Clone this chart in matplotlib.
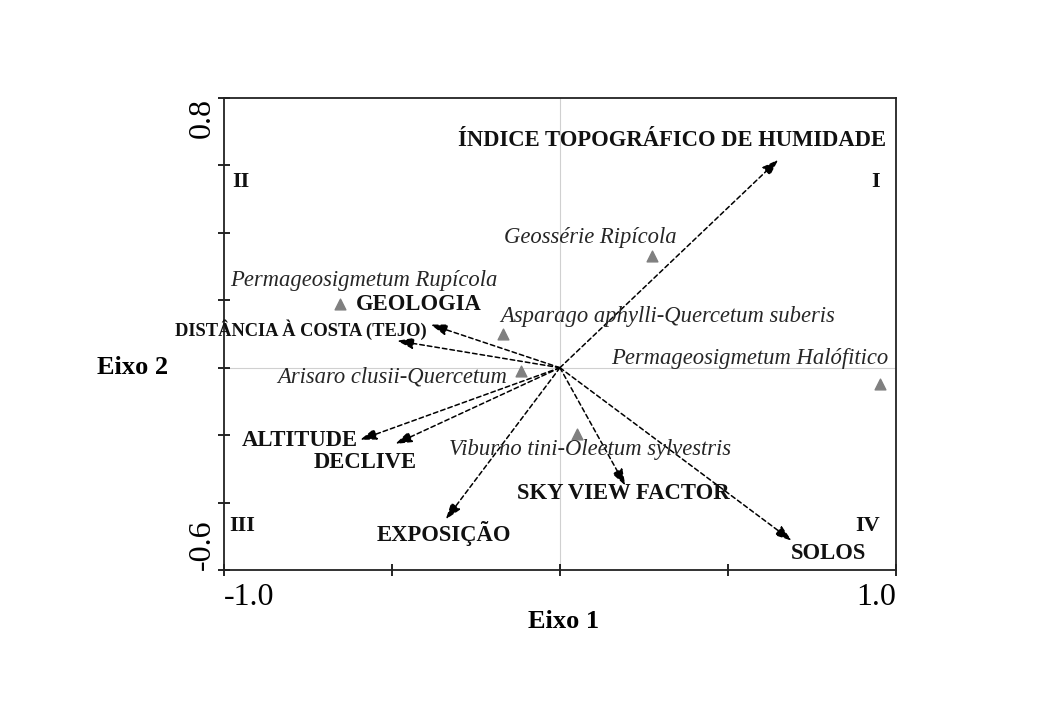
import matplotlib.pyplot as plt
import numpy as np

plt.rcParams['font.family'] = ['Liberation Serif', 'DejaVu Serif']

# environmental vectors (arrow tips)
var_names = ['ÍNDICE TOPOGRÁFICO DE HUMIDADE', 'GEOLOGIA', 'DISTÂNCIA À COSTA (TEJO)',
             'ALTITUDE', 'DECLIVE', 'EXPOSIÇÃO', 'SKY VIEW FACTOR', 'SOLOS']
var_x = [0.65, -0.385, -0.485, -0.595, -0.49, -0.34, 0.195, 0.69]
var_y = [0.617, 0.128, 0.08, -0.214, -0.226, -0.45, -0.35, -0.513]

# vegetation units (triangles)
site_names = ['Geossérie Ripícola', 'Permageosigmetum Rupícola',
              'Asparago aphylli-Quercetum suberis', 'Arisaro clusii-Quercetum',
              'Permageosigmetum Halófitico', 'Viburno tini-Oleetum sylvestris']
site_x = [0.274, -0.655, -0.17, -0.116, 0.952, 0.05]
site_y = [0.332, 0.19, 0.10, -0.01, -0.048, -0.196]

quadrants = ['I', 'II', 'III', 'IV']

fig = plt.figure(figsize=(10.4, 7.2), dpi=100)
ax = fig.add_axes([0.2154, 0.2083, 0.646, 0.6556])
ax.set_xlim(-1.0, 1.0)
ax.set_ylim(-0.6, 0.8)

ax.axhline(0, color='#d0d0d0', lw=0.8, zorder=0)
ax.axvline(0, color='#d0d0d0', lw=0.8, zorder=0)

for xe, ye in zip(var_x, var_y):
    ax.annotate('', xy=(xe, ye), xytext=(0, 0),
                arrowprops=dict(arrowstyle='-|>,head_length=1.0,head_width=0.34',
                                linestyle=(0, (3, 2)), color='black', lw=1.1,
                                shrinkA=0, shrinkB=0))

ax.scatter(site_x, site_y, marker='^', s=60, color='#808080', zorder=3)

# label centres (data units)
var_lab = [(0.335, 0.675), (-0.42, 0.187), (-0.77, 0.112), (-0.775, -0.217),
           (-0.58, -0.282), (-0.345, -0.492), (0.19, -0.373), (0.80, -0.55)]
var_fs = [16.3, 16.3, 13.3, 16.3, 16.3, 16.3, 16.3, 16.3]
for name, (lx, ly), fs in zip(var_names, var_lab, var_fs):
    ax.text(lx, ly, name, fontsize=fs, fontweight='bold', ha='center', va='center',
            color='#111111')

site_lab = [(0.09, 0.385), (-0.585, 0.26), (0.32, 0.152), (-0.5, -0.028),
            (0.565, 0.028), (0.09, -0.244)]
for name, (lx, ly) in zip(site_names, site_lab):
    ax.text(lx, ly, name, fontsize=16.3, fontstyle='italic', ha='center', va='center',
            color='#262626')

quad_pos = [(0.94, 0.55), (-0.95, 0.55), (-0.945, -0.468), (0.915, -0.468)]
for q, (qx, qy) in zip(quadrants, quad_pos):
    ax.text(qx, qy, q, fontsize=16, fontweight='bold', ha='center', va='center',
            color='#111111')

ax.set_xticks([-1.0, -0.5, 0.0, 0.5, 1.0])
ax.set_xticklabels(['-1.0', '', '', '', '1.0'])
ax.set_yticks([-0.6, -0.4, -0.2, 0.0, 0.2, 0.4, 0.6, 0.8])
ax.set_yticklabels(['-0.6', '', '', '', '', '', '', '0.8'], rotation=90)
ax.tick_params(labelsize=23, direction='inout', length=8, width=1.2)
ax.tick_params(axis='x', pad=5)
ax.tick_params(axis='y', pad=1)
xl = ax.get_xticklabels()
xl[0].set_ha('left')
xl[-1].set_ha('right')
yl = ax.get_yticklabels()
yl[0].set_va('bottom')
yl[-1].set_va('top')
for s in ax.spines.values():
    s.set_linewidth(1.3)
    s.set_color('#222222')

fig.text(564/1040, 1 - 622/720, 'Eixo 1', fontsize=19, fontweight='bold',
         ha='center', va='center')
fig.text(133/1040, 1 - 367/720, 'Eixo 2', fontsize=19, fontweight='bold',
         ha='center', va='center')

fig.savefig('out.png', dpi=100)
